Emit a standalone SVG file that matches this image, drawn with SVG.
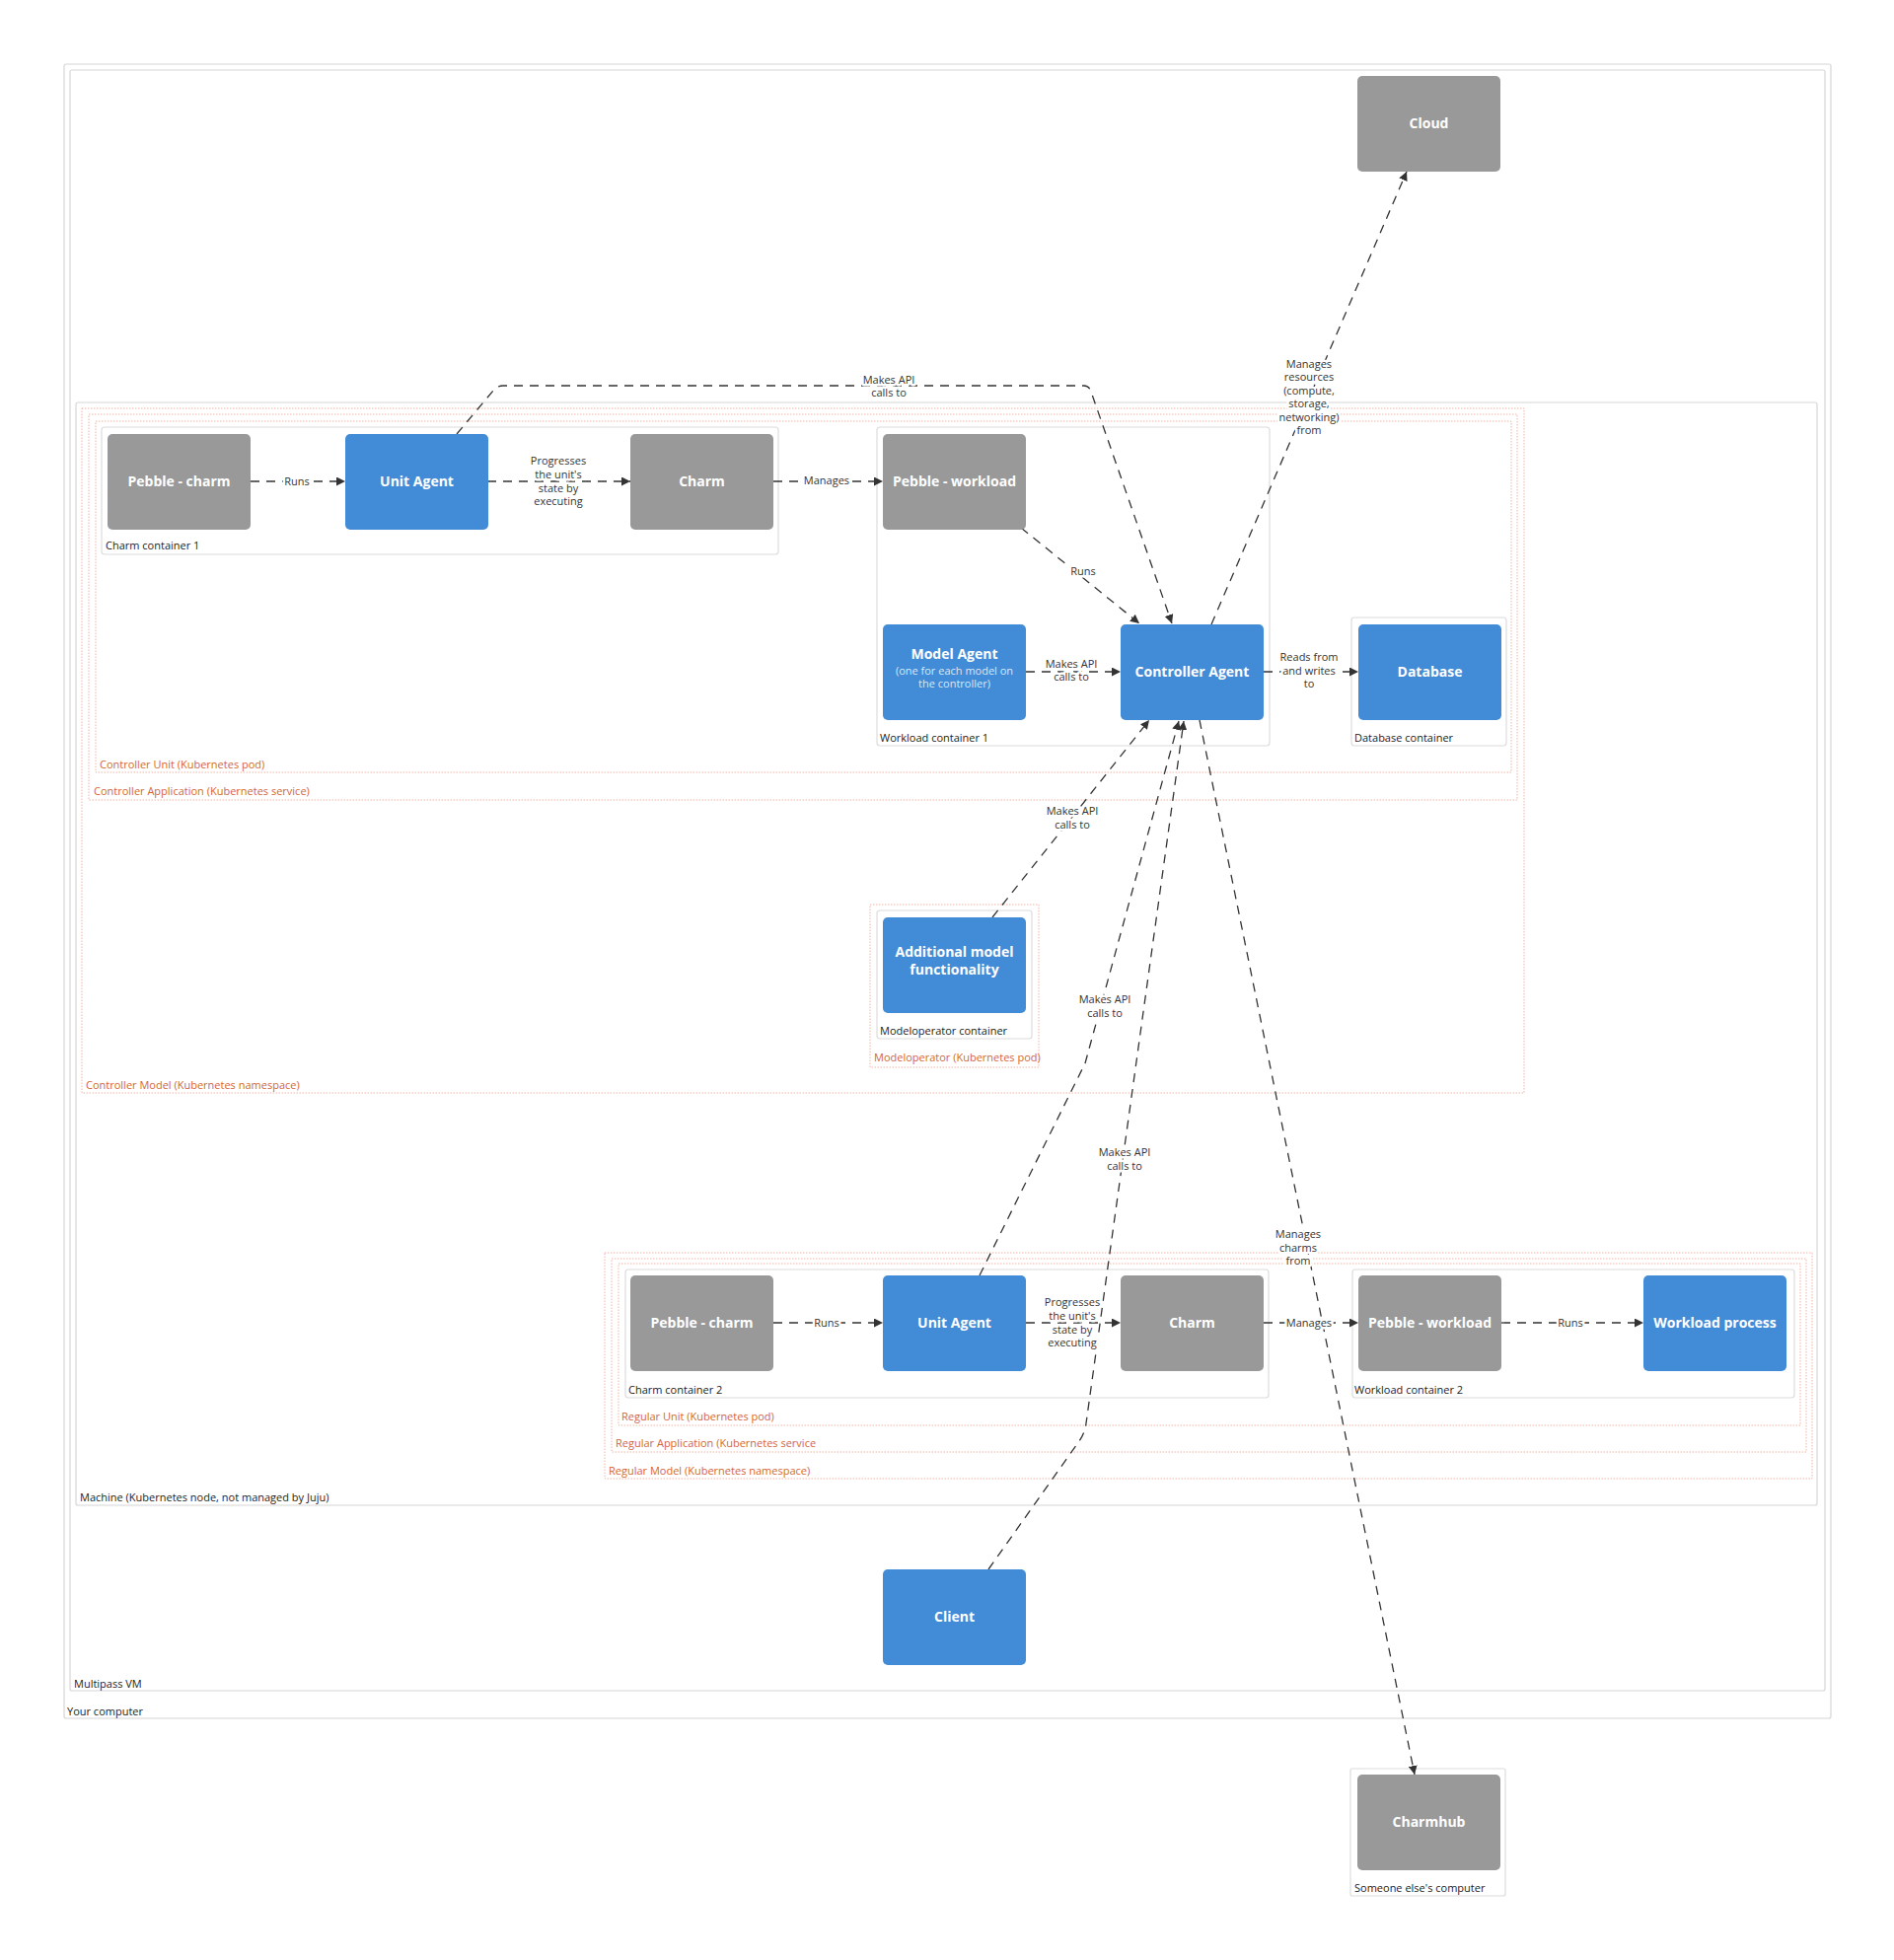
<svg xmlns="http://www.w3.org/2000/svg" width="1920" height="1987" viewBox="0 0 1920 1987">
<defs>
<marker id="arr" viewBox="0 0 10 10" refX="10" refY="5" markerWidth="9" markerHeight="9" markerUnits="userSpaceOnUse" orient="auto">
<path d="M0,0 L10,5 L0,10 z" fill="#333"/>
</marker>
</defs>
<style>
.frame{fill:none;stroke:#d6d6d6;stroke-width:1.2}
.cont{fill:#fff;stroke:#dcdcdc;stroke-width:1.2}
.k8s{fill:none;stroke:#f0b4a4;stroke-width:1;stroke-dasharray:1.5 1.5}
.lbl{font-family:"Open Sans","Liberation Sans",sans-serif;font-size:11px;fill:#222}
.klbl{font-family:"Open Sans","Liberation Sans",sans-serif;font-size:11px;fill:#d4653a}
.blue{fill:#428bd6}
.gray{fill:#999999}
.nt{font-family:"Open Sans","Liberation Sans",sans-serif;font-size:14px;font-weight:700;fill:#fff;text-anchor:middle}
.ns{font-family:"Open Sans","Liberation Sans",sans-serif;font-size:11px;fill:#dbe8f7;text-anchor:middle}
.edge{fill:none;stroke:#333;stroke-width:1.3;stroke-dasharray:9 7;marker-end:url(#arr)}
.el{font-family:"Open Sans","Liberation Sans",sans-serif;font-size:11px;fill:#333;text-anchor:middle;stroke:#fff;stroke-width:5;paint-order:stroke;stroke-linejoin:round}
</style>
<rect width="1920" height="1987" fill="#fff"/>

<g id="your-computer">
<rect class="frame" x="65" y="65" width="1791" height="1677" rx="2"/>
<text class="lbl" x="68" y="1739">Your computer</text>
</g>
<g id="multipass-vm">
<rect class="frame" x="71" y="71" width="1779" height="1643" rx="2"/>
<text class="lbl" x="75" y="1711">Multipass VM</text>
</g>
<g id="machine">
<rect class="frame" x="77" y="408" width="1765" height="1118" rx="2"/>
<text class="lbl" x="81" y="1522">Machine (Kubernetes node, not managed by Juju)</text>
</g>
<g id="controller-model">
<rect class="k8s" x="83" y="414" width="1462" height="694"/>
<text class="klbl" x="87" y="1104">Controller Model (Kubernetes namespace)</text>
</g>
<g id="controller-application">
<rect class="k8s" x="90" y="420" width="1448" height="391"/>
<text class="klbl" x="95" y="806">Controller Application (Kubernetes service)</text>
</g>
<g id="controller-unit">
<rect class="k8s" x="97" y="427" width="1435" height="356"/>
<text class="klbl" x="101" y="779">Controller Unit (Kubernetes pod)</text>
</g>
<g id="charm-container-1">
<rect class="cont" x="103" y="433" width="686" height="129" rx="3"/>
<text class="lbl" x="107" y="557">Charm container 1</text>
</g>
<g id="workload-container-1">
<rect class="cont" x="889" y="433" width="398" height="323" rx="3"/>
<text class="lbl" x="892" y="752">Workload container 1</text>
</g>
<g id="database-container">
<rect class="cont" x="1370" y="626" width="157" height="130" rx="3"/>
<text class="lbl" x="1373" y="752">Database container</text>
</g>
<g id="modeloperator-pod">
<rect class="k8s" x="882" y="917" width="171" height="165"/>
<text class="klbl" x="886" y="1076">Modeloperator (Kubernetes pod)</text>
</g>
<g id="modeloperator-container">
<rect class="cont" x="889" y="923" width="157" height="130" rx="3"/>
<text class="lbl" x="892" y="1049">Modeloperator container</text>
</g>
<g id="regular-model">
<rect class="k8s" x="613" y="1270" width="1224" height="229"/>
<text class="klbl" x="617" y="1495">Regular Model (Kubernetes namespace)</text>
</g>
<g id="regular-application">
<rect class="k8s" x="620" y="1276" width="1211" height="196"/>
<text class="klbl" x="624" y="1467">Regular Application (Kubernetes service</text>
</g>
<g id="regular-unit">
<rect class="k8s" x="627" y="1281" width="1198" height="164"/>
<text class="klbl" x="630" y="1440">Regular Unit (Kubernetes pod)</text>
</g>
<g id="charm-container-2">
<rect class="cont" x="634" y="1287" width="652" height="130" rx="3"/>
<text class="lbl" x="637" y="1413">Charm container 2</text>
</g>
<g id="workload-container-2">
<rect class="cont" x="1371" y="1287" width="448" height="130" rx="3"/>
<text class="lbl" x="1373" y="1413">Workload container 2</text>
</g>
<g id="someone-elses-computer">
<rect class="cont" x="1369" y="1793" width="157" height="129" rx="2"/>
<text class="lbl" x="1373" y="1918">Someone else's computer</text>
</g>

<g id="connectors">
<path class="edge" d="M254,488 H350"/>
<path class="edge" d="M494,488 H639"/>
<path class="edge" d="M784,488 H895"/>
<path class="edge" d="M1035,535 L1155,632"/>
<path class="edge" d="M463,440 L500,396 Q504,391 510,391 H1099 Q1104,391 1106,397 L1188,632"/>
<path class="edge" d="M1040,681 H1136"/>
<path class="edge" d="M1281,681 H1377"/>
<path class="edge" d="M1228,633 L1426,174"/>
<path class="edge" d="M1006,930 L1165,730"/>
<path class="edge" d="M993,1293 L1100,1078 L1195,731"/>
<path class="edge" d="M1002,1591 L1094,1461 Q1100,1452 1101,1443 L1200,731"/>
<path class="edge" d="M1216,730 L1434,1799"/>
<path class="edge" d="M784,1341 H895"/>
<path class="edge" d="M1040,1341 H1136"/>
<path class="edge" d="M1281,1341 H1377"/>
<path class="edge" d="M1522,1341 H1666"/>

<text class="el" x="301" y="492">Runs</text>
<text class="el"><tspan x="566" y="471">Progresses</tspan><tspan x="566" y="485">the unit's</tspan><tspan x="566" y="499">state by</tspan><tspan x="566" y="512">executing</tspan></text>
<text class="el" x="838" y="491">Manages</text>
<text class="el" x="1098" y="583">Runs</text>
<text class="el"><tspan x="901" y="389">Makes API</tspan><tspan x="901" y="402">calls to</tspan></text>
<text class="el"><tspan x="1086" y="677">Makes API</tspan><tspan x="1086" y="690">calls to</tspan></text>
<text class="el"><tspan x="1327" y="670">Reads from</tspan><tspan x="1327" y="684">and writes</tspan><tspan x="1327" y="697">to</tspan></text>
<text class="el"><tspan x="1327" y="373">Manages</tspan><tspan x="1327" y="386">resources</tspan><tspan x="1327" y="400">(compute,</tspan><tspan x="1327" y="413">storage,</tspan><tspan x="1327" y="427">networking)</tspan><tspan x="1327" y="440">from</tspan></text>
<text class="el"><tspan x="1087" y="826">Makes API</tspan><tspan x="1087" y="840">calls to</tspan></text>
<text class="el"><tspan x="1120" y="1017">Makes API</tspan><tspan x="1120" y="1031">calls to</tspan></text>
<text class="el"><tspan x="1140" y="1172">Makes API</tspan><tspan x="1140" y="1186">calls to</tspan></text>
<text class="el"><tspan x="1316" y="1255">Manages</tspan><tspan x="1316" y="1269">charms</tspan><tspan x="1316" y="1282">from</tspan></text>
<text class="el" x="838" y="1345">Runs</text>
<text class="el"><tspan x="1087" y="1324">Progresses</tspan><tspan x="1087" y="1338">the unit's</tspan><tspan x="1087" y="1352">state by</tspan><tspan x="1087" y="1365">executing</tspan></text>
<text class="el" x="1327" y="1345">Manages</text>
<text class="el" x="1592" y="1345">Runs</text>
</g>

<g id="cloud"><rect class="gray" x="1376" y="77" width="145" height="97" rx="5"/><text class="nt" x="1448.5" y="130">Cloud</text></g>
<g id="pebble-charm-1"><rect class="gray" x="109" y="440" width="145" height="97" rx="5"/><text class="nt" x="181.5" y="493">Pebble - charm</text></g>
<g id="unit-agent-1"><rect class="blue" x="350" y="440" width="145" height="97" rx="5"/><text class="nt" x="422.5" y="493">Unit Agent</text></g>
<g id="charm-1"><rect class="gray" x="639" y="440" width="145" height="97" rx="5"/><text class="nt" x="711.5" y="493">Charm</text></g>
<g id="pebble-workload-1"><rect class="gray" x="895" y="440" width="145" height="97" rx="5"/><text class="nt" x="967.5" y="493">Pebble - workload</text></g>
<g id="model-agent"><rect class="blue" x="895" y="633" width="145" height="97" rx="5"/><text class="nt" x="967.5" y="668">Model Agent</text><text class="ns"><tspan x="967.5" y="684">(one for each model on</tspan><tspan x="967.5" y="697">the controller)</tspan></text></g>
<g id="controller-agent"><rect class="blue" x="1136" y="633" width="145" height="97" rx="5"/><text class="nt" x="1208.5" y="686">Controller Agent</text></g>
<g id="database"><rect class="blue" x="1377" y="633" width="145" height="97" rx="5"/><text class="nt" x="1449.5" y="686">Database</text></g>
<g id="additional-model-functionality"><rect class="blue" x="895" y="930" width="145" height="97" rx="5"/><text class="nt"><tspan x="967.5" y="970">Additional model</tspan><tspan x="967.5" y="988">functionality</tspan></text></g>
<g id="pebble-charm-2"><rect class="gray" x="639" y="1293" width="145" height="97" rx="5"/><text class="nt" x="711.5" y="1346">Pebble - charm</text></g>
<g id="unit-agent-2"><rect class="blue" x="895" y="1293" width="145" height="97" rx="5"/><text class="nt" x="967.5" y="1346">Unit Agent</text></g>
<g id="charm-2"><rect class="gray" x="1136" y="1293" width="145" height="97" rx="5"/><text class="nt" x="1208.5" y="1346">Charm</text></g>
<g id="pebble-workload-2"><rect class="gray" x="1377" y="1293" width="145" height="97" rx="5"/><text class="nt" x="1449.5" y="1346">Pebble - workload</text></g>
<g id="workload-process"><rect class="blue" x="1666" y="1293" width="145" height="97" rx="5"/><text class="nt" x="1738.5" y="1346">Workload process</text></g>
<g id="client"><rect class="blue" x="895" y="1591" width="145" height="97" rx="5"/><text class="nt" x="967.5" y="1644">Client</text></g>
<g id="charmhub"><rect class="gray" x="1376" y="1799" width="145" height="97" rx="5"/><text class="nt" x="1448.5" y="1852">Charmhub</text></g>
</svg>
